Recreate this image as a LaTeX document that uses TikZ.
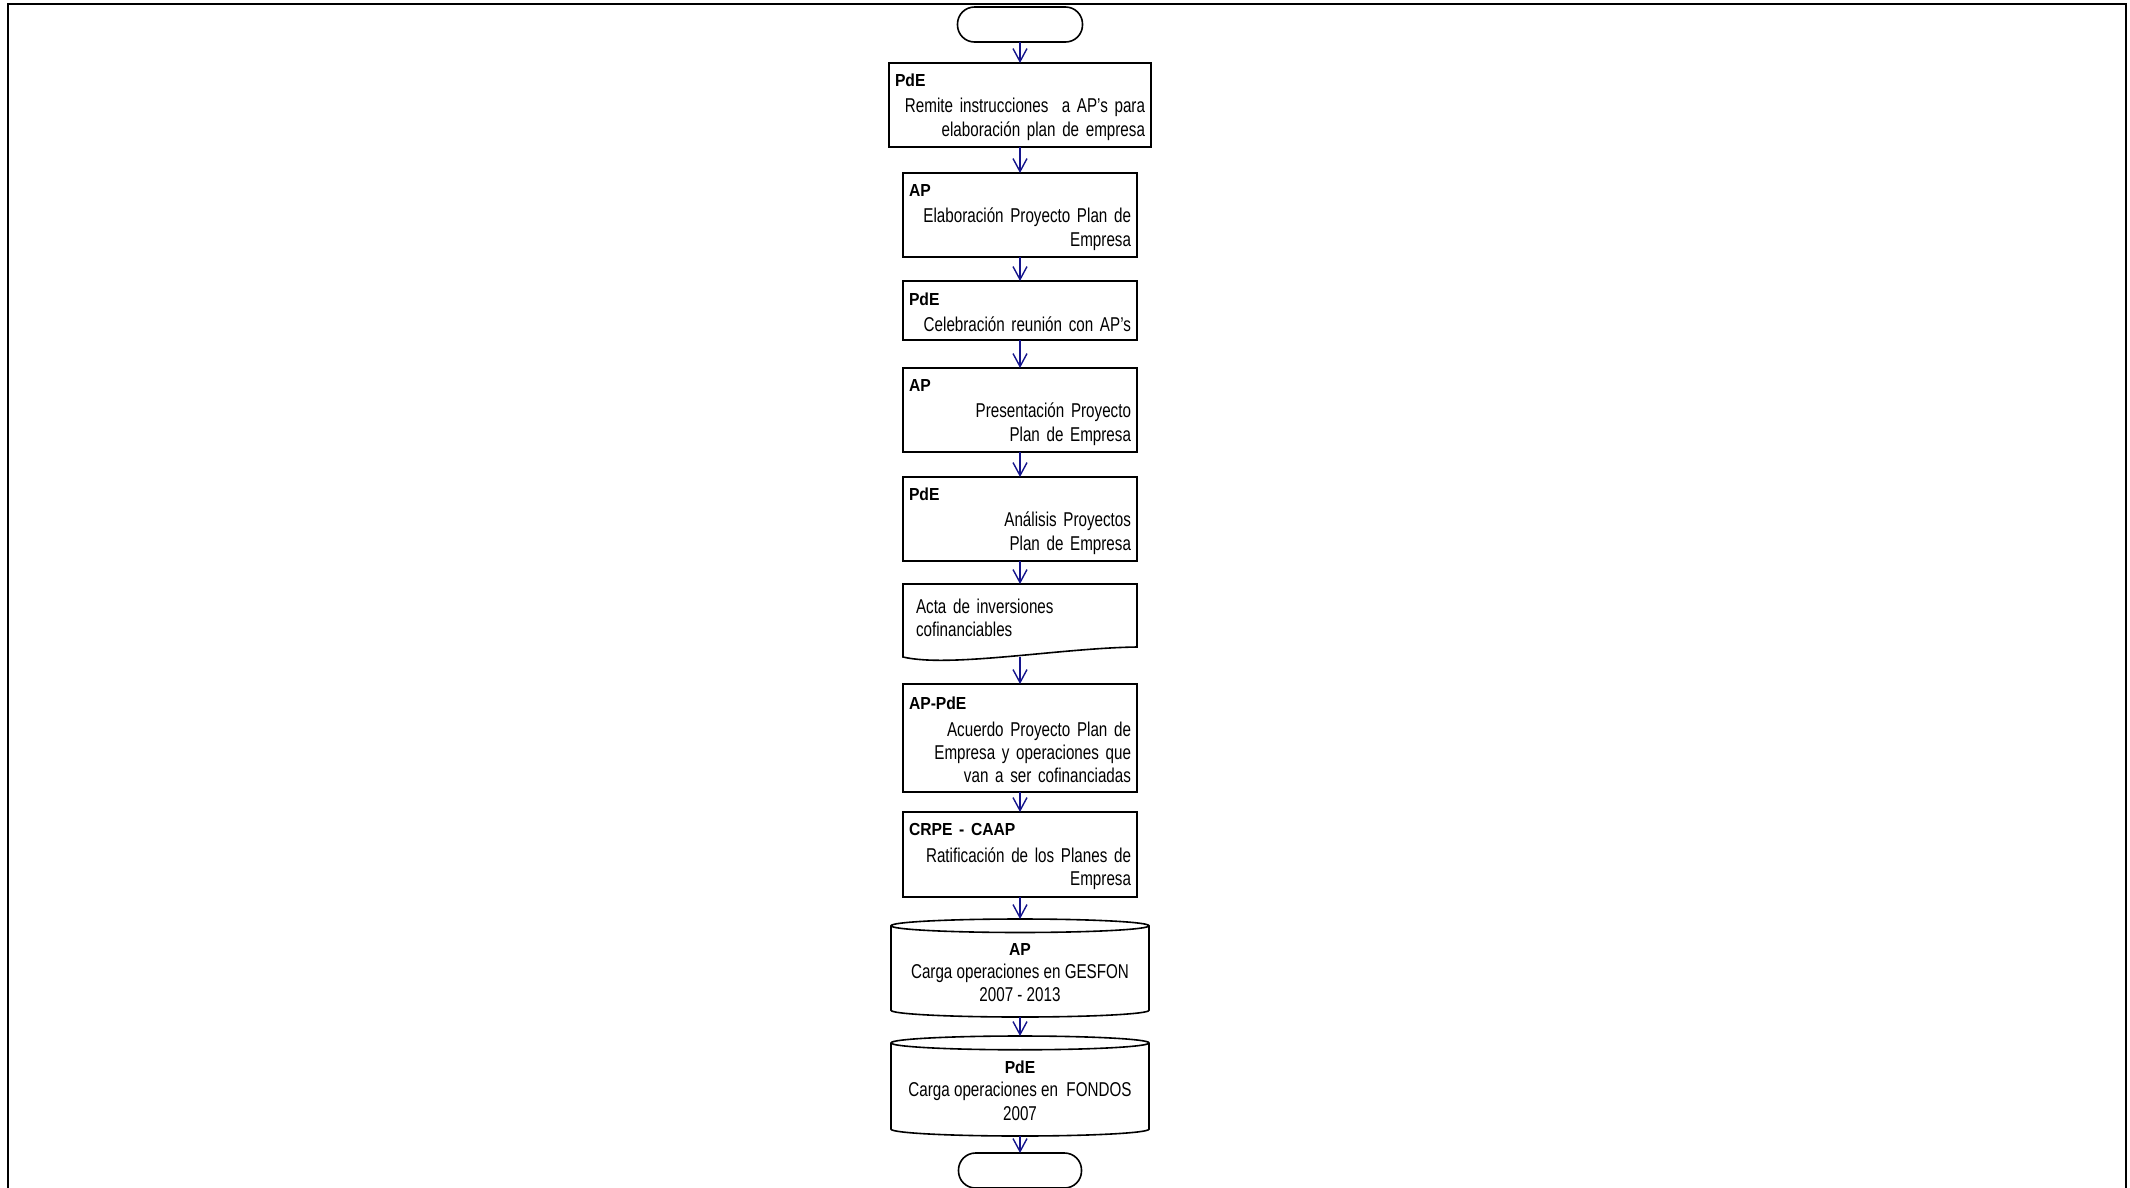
\documentclass[tikz,border=0pt]{standalone}
\usepackage{fontspec}
\setmainfont{Liberation Sans}[FakeStretch=0.76]
\newfontfamily\hdfont{Liberation Sans}[FakeStretch=0.9]
\usepackage{tikz}
\usetikzlibrary{positioning, arrows.meta, shapes.geometric}

\definecolor{flowblue}{RGB}{20,20,140}
\newcommand{\hd}[1]{\makebox[\hsize][l]{\fontsize{17.4}{23.4}\hdfont\bfseries\rule{0pt}{16.7pt}#1}\\[3pt]}
\newcommand{\hdc}[1]{{\fontsize{17.4}{23.4}\hdfont\bfseries #1}}

\begin{document}
\begin{tikzpicture}[
    x=1pt, y=1pt,
    font=\fontsize{20}{23.4}\selectfont,
    box/.style={draw, line width=1.6pt, outer sep=0pt, align=right, inner xsep=6pt,
                text width=222pt, minimum height=84pt},
    term/.style={draw, line width=1.6pt, outer sep=0pt, rounded corners=17pt,
                 minimum width=125pt, minimum height=35pt},
    doc/.style={outer sep=0pt, align=left, inner xsep=13pt, text width=208pt,
                minimum height=73pt},
    db/.style={draw, line width=1.6pt, outer sep=0pt, cylinder, shape border rotate=90,
               aspect=0.06, align=center, minimum width=258pt, minimum height=98pt},
    arr/.style={-{Straight Barb[length=13pt, width=14pt]}, line width=1.4pt, flowblue}
  ]
  \useasboundingbox (0,0) rectangle (2130,-1187);
  \draw[line width=2.5pt] (8,-1195) -- (8,-4) -- (2126,-4) -- (2126,-1195);

  \node[term] (start) at (1020,-24.5) {};
  \node[box, below=21pt of start, text width=250pt] (remite)
    {\hd{PdE}Remite instrucciones \ a AP’s para\\elaboración plan de empresa};
  \node[box, below=26pt of remite] (elab)
    {\hd{AP}Elaboración Proyecto Plan de\\Empresa};
  \node[box, below=24pt of elab, minimum height=59pt] (reunion)
    {\hd{PdE}Celebración reunión con AP’s};
  \node[box, below=28pt of reunion] (present)
    {\hd{AP}Presentación Proyecto\\Plan de Empresa};
  \node[box, below=25pt of present] (analisis)
    {\hd{PdE}Análisis Proyectos\\Plan de Empresa};
  \node[doc, below=23pt of analisis] (acta)
    {Acta de inversiones\\cofinanciables\rule[-6pt]{0pt}{6pt}};
  \draw[line width=1.6pt] (acta.south west) -- (acta.north west) -- (acta.north east)
    -- ([yshift=10pt]acta.south east)
    .. controls ([xshift=40pt, yshift=9pt]acta.south) and ([xshift=-70pt, yshift=-11pt]acta.south)
    .. (acta.south west) -- cycle;
  \node[box, below=27pt of acta, minimum height=108pt] (acuerdo)
    {\hd{AP-PdE}Acuerdo Proyecto Plan de\\Empresa y operaciones que\\van a ser cofinanciadas};
  \node[box, below=20pt of acuerdo, minimum height=85pt] (ratif)
    {\hd{CRPE - CAAP}Ratificación de los Planes de\\Empresa};
  \node[db, below=22pt of ratif] (gesfon)
    {\hdc{AP}\\Carga operaciones en GESFON\\2007 - 2013};
  \node[db, below=19pt of gesfon, minimum height=100pt] (fondos)
    {\hdc{PdE}\\Carga operaciones en \ FONDOS\\2007};
  \node[term, below=17pt of fondos, minimum width=123pt] (fin) {};

  \draw[arr] (start) -- (remite);
  \draw[arr] (remite) -- (elab);
  \draw[arr] (elab) -- (reunion);
  \draw[arr] (reunion) -- (present);
  \draw[arr] (present) -- (analisis);
  \draw[arr] (analisis) -- (acta);
  \draw[arr] (acta) -- (acuerdo);
  \draw[arr] (acuerdo) -- (ratif);
  \draw[arr] (ratif) -- (gesfon);
  \draw[arr] (gesfon) -- (fondos);
  \draw[arr] (fondos) -- (fin);
\end{tikzpicture}
\end{document}
